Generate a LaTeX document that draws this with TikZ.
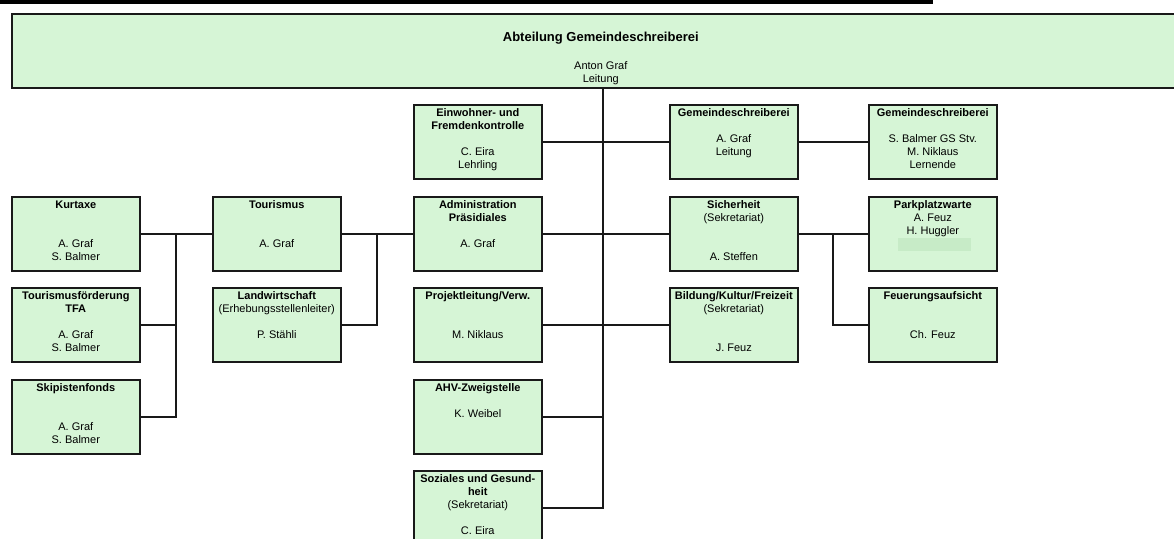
\documentclass[tikz,border=0pt]{standalone}
\usepackage{fontspec}
\setmainfont{Liberation Sans}
\definecolor{boxgreen}{RGB}{214,245,214}
\definecolor{boxshade}{RGB}{199,235,199}
\newcommand{\unittext}[1]{\parbox[t][74pt][t]{128pt}{\centering\rule{0pt}{12pt}#1}}
\tikzset{
  unit/.style={draw=black!90, line width=1.6pt, fill=boxgreen, inner sep=0pt, anchor=north west, font=\fontsize{11}{13}\selectfont},
  link/.style={line width=1.6pt, black!90},
}

\begin{document}
\begin{tikzpicture}[x=1pt,y=-1pt]
\useasboundingbox (0,0) rectangle (1174,538);
\clip (0,0) rectangle (1174,538);
\fill (0,0) rectangle (933,3.5);

\node[unit] (abteilung) at (11,13) {\parbox[t][74pt][t]{1178pt}{\centering\rule{0pt}{28pt}{\fontsize{13}{15}\selectfont\bfseries Abteilung Gemeindeschreiberei}\\[15pt]Anton Graf\\Leitung}};

\node[unit] (kurtaxe) at (11,196) {\unittext{\textbf{Kurtaxe}\\[26pt]A. Graf\\S. Balmer}};
\node[unit] (tfa) at (11,287) {\unittext{\textbf{Tourismusförderung}\\\textbf{TFA}\\[13pt]A. Graf\\S. Balmer}};
\node[unit] (skipisten) at (11,379) {\unittext{\textbf{Skipistenfonds}\\[26pt]A. Graf\\S. Balmer}};

\node[unit] (tourismus) at (212,196) {\unittext{\textbf{Tourismus}\\[26pt]A. Graf}};
\node[unit] (landw) at (212,287) {\unittext{\textbf{Landwirtschaft}\\(Erhebungsstellenleiter)\\[13pt]P. Stähli}};

\node[unit] (einwohner) at (413,104) {\unittext{\textbf{Einwohner- und}\\\textbf{Fremdenkontrolle}\\[13pt]C. Eira\\Lehrling}};
\node[unit] (admin) at (413,196) {\unittext{\textbf{Administration}\\\textbf{Präsidiales}\\[13pt]A. Graf}};
\node[unit] (projekt) at (413,287) {\unittext{\textbf{Projektleitung/Verw.}\\[26pt]M. Niklaus}};
\node[unit] (ahv) at (413,379) {\unittext{\textbf{AHV-Zweigstelle}\\[13pt]K. Weibel}};
\node[unit] (soziales) at (413,470) {\unittext{\textbf{Soziales und Gesund-}\\\textbf{heit}\\(Sekretariat)\\[13pt]C. Eira}};

\node[unit] (gs) at (669,104) {\unittext{\textbf{Gemeindeschreiberei}\\[13pt]A. Graf\\Leitung}};
\node[unit] (sicherheit) at (669,196) {\unittext{\textbf{Sicherheit}\\(Sekretariat)\\[26pt]A. Steffen}};
\node[unit] (bildung) at (669,287) {\unittext{\textbf{Bildung/Kultur/Freizeit}\\(Sekretariat)\\[26pt]J. Feuz}};

\node[unit] (gsteam) at (868,104) {\unittext{\textbf{Gemeindeschreiberei}\\[13pt]S. Balmer GS Stv.\\M. Niklaus\\Lernende}};
\node[unit] (parkplatz) at (868,196) {\unittext{\textbf{Parkplatzwarte}\\A. Feuz\\H. Huggler}};
\node[unit] (feuerung) at (868,287) {\unittext{\textbf{Feuerungsaufsicht}\\[26pt]Ch. Feuz}};
\fill[boxshade] (898,238) rectangle (971,251);

\coordinate (trunkend) at (603,507);
\coordinate (ljoin) at (176,233);
\coordinate (mjoin) at (377,233);
\coordinate (rjoin) at (833,233);

\draw[link] (abteilung.south -| trunkend) |- (soziales.east);
\draw[link] (einwohner.east) -- (gs.west);
\draw[link] (admin.east) -- (sicherheit.west);
\draw[link] (projekt.east) -- (bildung.west);
\draw[link] (ahv.east) -- (ahv.east -| trunkend);
\draw[link] (gs.east) -- (gsteam.west);
\draw[link] (sicherheit.east) -- (parkplatz.west);
\draw[link] (rjoin) |- (feuerung.west);
\draw[link] (tourismus.east) -- (admin.west);
\draw[link] (mjoin) |- (landw.east);
\draw[link] (kurtaxe.east) -- (tourismus.west);
\draw[link] (ljoin) |- (skipisten.east);
\draw[link] (tfa.east) -- (tfa.east -| ljoin);
\end{tikzpicture}
\end{document}
